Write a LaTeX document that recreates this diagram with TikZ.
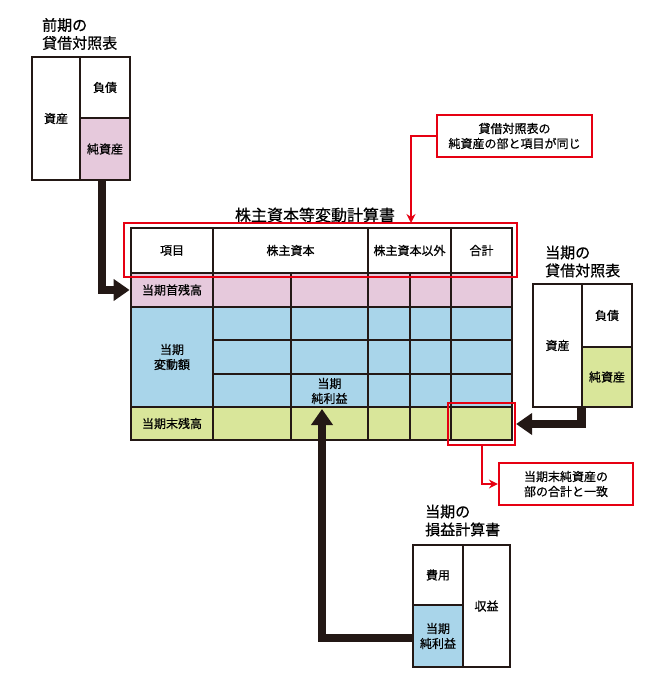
\documentclass[tikz,border=0pt]{standalone}
\usepackage{fontspec}
\setmainfont{Noto Sans CJK JP}[FakeBold=0.6]
\usetikzlibrary{arrows.meta}
\definecolor{ink}{HTML}{231815}
\definecolor{redc}{HTML}{E60012}
\definecolor{pinkc}{HTML}{E6C9DC}
\definecolor{bluec}{HTML}{A9D5EA}
\definecolor{greenc}{HTML}{D9E69A}
\begin{document}
\begin{tikzpicture}[x=1pt,y=-1pt,
  cell/.style={draw=ink, line width=2.8pt, inner sep=1pt, font=\fontsize{12}{15}\selectfont, align=center},
  sz/.style 2 args={minimum width=#1pt, minimum height=#2pt},
  txt/.style={font=\fontsize{12}{15}\selectfont, align=center, inner sep=0pt},
  title/.style={font=\fontsize{15}{18}\selectfont, align=left, anchor=west, inner sep=0pt},
  redbox/.style={draw=redc, line width=2.2pt, inner sep=0pt},
  redline/.style={draw=redc, line width=2pt, -{Stealth[length=9pt,width=9pt]}},
  bigarrow/.style={draw=ink, line width=8.5pt, line join=miter, -{Triangle[length=16pt,width=21pt]}}
]
\useasboundingbox (0,0) rectangle (650,690);

% ---- previous balance sheet ----
\node[title] (t1) at (42,34) {前期の\\貸借対照表};
\node[cell, sz={48}{123}] (pa) at (56,118.5) {資産};
\node[cell, sz={50}{61}] (pl) at (105,87.5) {負債};
\node[cell, fill=pinkc, sz={50}{62}] (pn) at (105,149) {純資産};

% ---- main statement ----
\node[font=\fontsize{16}{19}\selectfont, inner sep=0pt] (mt) at (315,215) {株主資本等変動計算書};

\foreach \t/\b/\f/\r in {273/307/pinkc/1,307/340/bluec/2,340/374/bluec/3,374/407/bluec/4,407/440/greenc/5}{
  \foreach \l/\rr/\c in {213/291/2,291/368/3,368/410/4,410/451/5,451/512/6}{
    \node[cell, fill=\f, minimum width={(\rr-\l)*1pt}, minimum height={(\b-\t)*1pt}] (r\r\c) at ({(\l+\rr)/2},{(\t+\b)/2}) {};
  }
}
\node[cell, fill=pinkc, sz={82}{34}] (r11) at (172,290) {当期首残高};
\node[cell, fill=bluec, sz={82}{100}] (chg) at (172,357) {当期\\変動額};
\node[cell, fill=greenc, sz={82}{33}] (r51) at (172,423.5) {当期末残高};
\node[txt] (npl) at (329.5,391) {当期\\純利益};

\node[cell, sz={82}{45}] (h1) at (172,250.5) {項目};
\node[cell, sz={155}{45}] (h2) at (290.5,250.5) {株主資本};
\node[cell, sz={83}{45}] (h3) at (409.5,250.5) {株主資本以外};
\node[cell, sz={61}{45}] (h4) at (481.5,250.5) {合計};

\node[redbox, sz={393}{54}] (hdr) at (320.5,250) {};
\node[redbox, sz={67}{42}] (tot) at (481.5,424) {};

% ---- callouts ----
\node[redbox, fill=white, txt, sz={155}{42}] (co1) at (514.5,136) {貸借対照表の\\純資産の部と項目が同じ};
\coordinate (co1end) at (411,223);
\draw[redline] (co1.west) -| (co1end);

\node[redbox, fill=white, txt, sz={134}{42}] (co2) at (566,484) {当期末純資産の\\部の合計と一致};
\draw[redline] (tot.south) |- (co2.west);

% ---- current balance sheet ----
\node[title] (t2) at (545,261.5) {当期の\\貸借対照表};
\node[cell, sz={49}{123}] (ca) at (557.5,345.5) {資産};
\node[cell, sz={50}{63}] (cl) at (607,315.5) {負債};
\node[cell, fill=greenc, sz={50}{60}] (cn) at (607,377) {純資産};

% ---- income statement ----
\node[title] (t3) at (425,520.5) {当期の\\損益計算書};
\node[cell, sz={50}{60}] (ie) at (438,575) {費用};
\node[cell, fill=bluec, sz={50}{62}] (ini) at (438,636) {当期\\純利益};
\node[cell, sz={47}{122}] (ir) at (486.5,606) {収益};

% ---- thick arrows ----
\draw[bigarrow] ([xshift=-3pt]pn.south) |- (r11.west);
\draw[bigarrow] ([xshift=1pt]cn.south west) |- (tot.east);
\coordinate (npend) at (322,409);
\draw[bigarrow] ([yshift=-2pt]ini.west) -| (npend);
\end{tikzpicture}
\end{document}
